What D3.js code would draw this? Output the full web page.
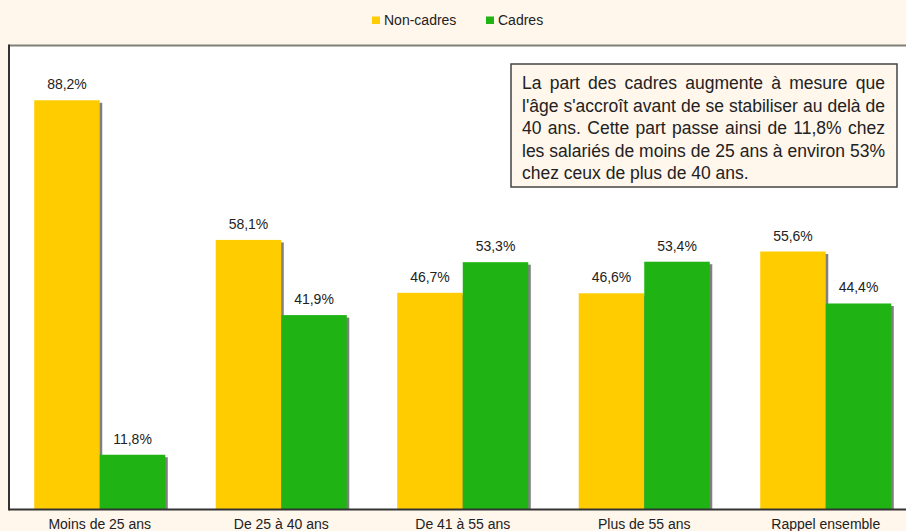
<!DOCTYPE html>
<html>
<head>
<meta charset="utf-8">
<script src="https://cdn.jsdelivr.net/npm/d3@7"></script>
<style>
  html, body { margin: 0; padding: 0; background: #FFF6EC; }
  svg { display: block; }
  text { font-family: "Liberation Sans", Arial, sans-serif; fill: #222; }
</style>
</head>
<body>
<svg id="chart" width="906" height="531"></svg>
<script>
const categories = ["Moins de 25 ans", "De 25 à 40 ans", "De 41 à 55 ans", "Plus de 55 ans", "Rappel ensemble"];
const seriesNames = ["Non-cadres", "Cadres"];
const nonCadres = [88.2, 58.1, 46.7, 46.6, 55.6];
const cadres = [11.8, 41.9, 53.3, 53.4, 44.4];
const colors = ["#FFCC00", "#1FB414"];
const noteLines = [
  "La part des cadres augmente à mesure que",
  "l'âge s'accroît avant de se stabiliser au delà de",
  "40 ans. Cette part passe ainsi de 11,8% chez",
  "les salariés de moins de 25 ans à environ 53%",
  "chez ceux de plus de 40 ans."
];

const svg = d3.select("#chart");
const W = 906, H = 531;
const plot = { left: 9, top: 45.5, bottom: 509.5, right: 916.5 };

const x0 = d3.scaleBand().domain(categories).range([plot.left, plot.right])
  .paddingInner(0.278).paddingOuter(0.139);
const x1 = d3.scaleBand().domain(seriesNames).range([0, x0.bandwidth()]).padding(0);
const y = d3.scaleLinear().domain([0, 100]).range([plot.bottom, plot.top]);

// plot background
svg.append("rect").attr("x", plot.left).attr("y", plot.top)
  .attr("width", W - plot.left).attr("height", plot.bottom - plot.top).attr("fill", "#fff");

const data = [];
categories.forEach((c, i) => {
  data.push({ cat: c, s: seriesNames[0], v: nonCadres[i], color: colors[0] });
  data.push({ cat: c, s: seriesNames[1], v: cadres[i], color: colors[1] });
});

// shadows
svg.append("g").selectAll("rect").data(data).join("rect")
  .attr("x", d => x0(d.cat) + x1(d.s) + 2.5)
  .attr("y", d => y(d.v) + 2.5)
  .attr("width", x1.bandwidth())
  .attr("height", d => plot.bottom - y(d.v) - 2.5)
  .attr("fill", "#808080");

// bars
svg.append("g").selectAll("rect").data(data).join("rect")
  .attr("x", d => x0(d.cat) + x1(d.s))
  .attr("y", d => y(d.v))
  .attr("width", x1.bandwidth())
  .attr("height", d => plot.bottom - y(d.v))
  .attr("fill", d => d.color);

// value labels
const fmt = v => v.toFixed(1).replace(".", ",") + "%";
svg.append("g").selectAll("text").data(data).join("text")
  .attr("x", d => x0(d.cat) + x1(d.s) + x1.bandwidth() / 2)
  .attr("y", d => y(d.v) - 11)
  .attr("text-anchor", "middle")
  .attr("font-size", 14)
  .text(d => fmt(d.v));

// borders
svg.append("line").attr("x1", plot.left).attr("x2", W).attr("y1", plot.top).attr("y2", plot.top)
  .attr("stroke", "#807F78").attr("stroke-width", 2);
svg.append("line").attr("x1", plot.left).attr("x2", plot.left).attr("y1", plot.top - 1).attr("y2", plot.bottom + 1)
  .attr("stroke", "#333").attr("stroke-width", 2);

// bottom axis
const xAxis = d3.axisBottom(x0).tickSize(0).tickPadding(0);
const gx = svg.append("g").attr("transform", `translate(0,${plot.bottom})`).call(xAxis);
gx.select(".domain").attr("stroke", "#333").attr("stroke-width", 2)
  .attr("d", `M${plot.left},0H${W}`);
gx.selectAll("text").attr("font-size", 14).attr("fill", "#222")
  .attr("font-family", '"Liberation Sans", Arial, sans-serif')
  .attr("dy", null).attr("y", 19.5);

// legend
const legend = svg.append("g");
const legX = [372, 486];
seriesNames.forEach((s, i) => {
  legend.append("rect").attr("x", legX[i]).attr("y", 16.5).attr("width", 8).attr("height", 7.5).attr("fill", colors[i]);
  legend.append("text").attr("x", legX[i] + 12).attr("y", 24.5).attr("font-size", 14).text(s);
});

// note box
const box = { x: 511, y: 64, w: 386, h: 123 };
svg.append("rect").attr("x", box.x).attr("y", box.y).attr("width", box.w).attr("height", box.h)
  .attr("fill", "#FFF6EC").attr("stroke", "#444").attr("stroke-width", 1.5);
const textW = 363;
noteLines.forEach((line, i) => {
  const t = svg.append("text").attr("x", 522).attr("y", 89 + i * 22.5)
    .attr("font-size", 17.5).text(line);
  if (i < noteLines.length - 1) {
    const natural = t.node().getComputedTextLength();
    const spaces = (line.match(/ /g) || []).length;
    if (spaces > 0) t.attr("word-spacing", (textW - natural) / spaces);
  }
});
</script>
</body>
</html>
